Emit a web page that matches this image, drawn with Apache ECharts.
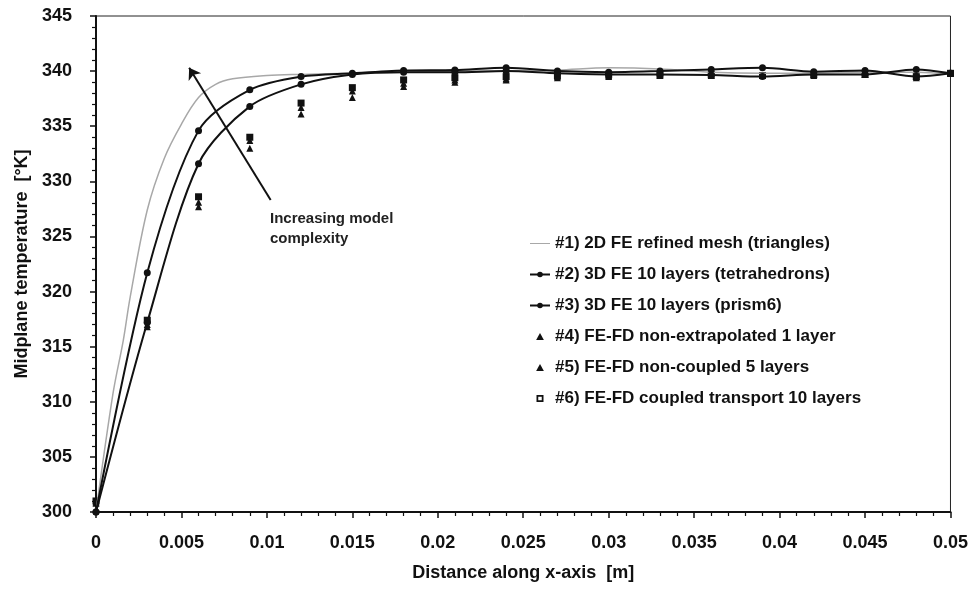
<!DOCTYPE html>
<html>
<head>
<meta charset="utf-8">
<script src="https://cdn.jsdelivr.net/npm/echarts@6/dist/echarts.min.js"></script>
<style>
  html, body { margin: 0; padding: 0; background: #fff; }
  #chart { width: 971px; height: 591px; }
</style>
</head>
<body>
<div id="chart"></div>
<script>
// tick labels
const xTicks = [0, 0.005, 0.01, 0.015, 0.02, 0.025, 0.03, 0.035, 0.04, 0.045, 0.05]
const yTicks = [300, 305, 310, 315, 320, 325, 330, 335, 340, 345]

// #1 2D FE refined mesh (dense curve)
const x2d = [0, 0.001, 0.0016, 0.002, 0.003, 0.004, 0.005, 0.006, 0.007, 0.008, 0.01, 0.012, 0.015,
  0.018, 0.021, 0.024, 0.027, 0.03, 0.033, 0.036, 0.039, 0.042, 0.045, 0.048, 0.05]
const t2d = [300, 310.8, 315.6, 319.5, 327.4, 332.1, 335.2, 337.6, 338.8, 339.3, 339.6, 339.7, 339.8,
  339.9, 340.0, 340.0, 340.1, 340.3, 340.2, 339.9, 339.8, 339.8, 339.9, 339.9, 339.7]

// nodes shared by the 3D / FE-FD results
const xNodes = [0, 0.003, 0.006, 0.009, 0.012, 0.015, 0.018, 0.021, 0.024, 0.027, 0.03, 0.033,
  0.036, 0.039, 0.042, 0.045, 0.048, 0.05]
const tTetra = [300, 321.7, 334.6, 338.3, 339.5, 339.8, 340.05, 340.1, 340.3, 340.0, 339.9, 340.0,
  340.15, 340.3, 339.95, 340.05, 339.5, 339.8]
const tPrism = [300, 317.2, 331.6, 336.8, 338.8, 339.7, 339.9, 339.9, 340.0, 339.8, 339.7, 339.7,
  339.65, 339.5, 339.7, 339.7, 340.15, 339.8]
const tNonExtrap = [300.8, 316.8, 327.7, 333.0, 336.1, 337.6, 338.6, 339.0, 339.2, 339.4, 339.5, 339.6,
  339.6, 339.6, 339.6, 339.7, 339.4, 339.8]
const tNonCoupled = [300.9, 317.0, 328.1, 333.7, 336.7, 338.2, 338.9, 339.2, 339.3, 339.5, 339.6, 339.6,
  339.6, 339.6, 339.7, 339.7, 339.5, 339.8]
const tCoupled = [301.0, 317.4, 328.6, 334.0, 337.1, 338.5, 339.2, 339.4, 339.5, 339.6, 339.7, 339.7,
  339.7, 339.6, 339.7, 339.7, 339.5, 339.8]

// arrow annotation (data coords)
const arrowFrom = [0.01022, 328.3]
const arrowTo = [0.00545, 340.3]

const zip = (xs, ys) => xs.map((x, i) => [x, ys[i]])

// legend icons (path icons keep their aspect)
const iconLine = 'path://M0 0 H20 V1 H0 Z'
const iconTri = 'path://M5 0 L10 9 L0 9 Z'
const iconBox = 'path://M0 0 H10 V10 H0 Z M2.5 2.5 V7.5 H7.5 V2.5 Z'

const chart = echarts.init(document.getElementById('chart'))
const font = 'Liberation Sans, Arial, sans-serif'

chart.setOption({
  animation: false,
  backgroundColor: '#fff',
  textStyle: { fontFamily: font },
  grid: {
    left: 96,
    right: 19,
    top: 16,
    bottom: 79,
    show: true,
    borderColor: '#222',
    borderWidth: 1,
  },
  legend: {
    orient: 'vertical',
    left: 524,
    top: 230,
    itemWidth: 20,
    itemHeight: 7,
    itemGap: 14,
    symbolKeepAspect: true,
    selectedMode: false,
    textStyle: { fontFamily: font, fontSize: 17, fontWeight: 'bold', color: '#111' },
    data: [
      { name: '#1) 2D FE refined mesh (triangles)', icon: iconLine },
      '#2) 3D FE 10 layers (tetrahedrons)',
      '#3) 3D FE 10 layers (prism6)',
      { name: '#4) FE-FD non-extrapolated 1 layer', icon: iconTri },
      { name: '#5) FE-FD non-coupled 5 layers', icon: iconTri },
      { name: '#6) FE-FD coupled transport 10 layers', icon: iconBox },
    ],
  },
  xAxis: {
    type: 'value',
    min: xTicks[0],
    max: xTicks[xTicks.length - 1],
    interval: xTicks[1] - xTicks[0],
    name: 'Distance along x-axis  [m]',
    nameLocation: 'middle',
    nameGap: 52,
    nameTextStyle: { fontFamily: font, fontSize: 18, fontWeight: 'bold', color: '#111' },
    axisLine: { lineStyle: { color: '#111', width: 2 } },
    axisTick: { show: true, inside: false, length: 6, lineStyle: { color: '#111', width: 1.5 } },
    minorTick: { show: true, splitNumber: 5, length: 4, lineStyle: { color: '#111', width: 1.2 } },
    splitLine: { show: false },
    axisLabel: {
      margin: 22,
      fontFamily: font,
      fontSize: 18,
      fontWeight: 'bold',
      color: '#111',
      formatter: (v) => String(+v.toFixed(3)),
    },
  },
  yAxis: {
    type: 'value',
    min: yTicks[0],
    max: yTicks[yTicks.length - 1],
    interval: yTicks[1] - yTicks[0],
    name: 'Midplane temperature  [°K]',
    nameLocation: 'middle',
    nameGap: 65,
    nameTextStyle: { fontFamily: font, fontSize: 18, fontWeight: 'bold', color: '#111' },
    axisLine: { lineStyle: { color: '#111', width: 2 } },
    axisTick: { show: true, inside: false, length: 6, lineStyle: { color: '#111', width: 1.5 } },
    minorTick: { show: true, splitNumber: 5, length: 4, lineStyle: { color: '#111', width: 1.2 } },
    splitLine: { show: false },
    axisLabel: { margin: 24, fontFamily: font, fontSize: 18, fontWeight: 'bold', color: '#111' },
  },
  graphic: [
    {
      type: 'text',
      left: 270,
      top: 209,
      style: {
        text: 'Increasing model\ncomplexity',
        font: 'bold 15px ' + font,
        fill: '#222',
        lineHeight: 20,
      },
    },
  ],
  series: [
    {
      name: '#4) FE-FD non-extrapolated 1 layer',
      type: 'scatter',
      symbol: 'triangle',
      symbolSize: 7,
      itemStyle: { color: '#111', opacity: 1 },
      data: zip(xNodes, tNonExtrap),
    },
    {
      name: '#5) FE-FD non-coupled 5 layers',
      type: 'scatter',
      symbol: 'triangle',
      symbolSize: 7,
      itemStyle: { color: '#111', opacity: 1 },
      data: zip(xNodes, tNonCoupled),
    },
    {
      name: '#6) FE-FD coupled transport 10 layers',
      type: 'scatter',
      symbol: 'rect',
      symbolSize: 7,
      itemStyle: { color: '#111', opacity: 1 },
      data: zip(xNodes, tCoupled),
    },
    {
      name: '#1) 2D FE refined mesh (triangles)',
      type: 'line',
      smooth: 0.35,
      symbol: 'none',
      lineStyle: { color: '#a8a8a8', width: 1.5 },
      itemStyle: { color: '#a8a8a8' },
      data: zip(x2d, t2d),
    },
    {
      name: '#2) 3D FE 10 layers (tetrahedrons)',
      type: 'line',
      smooth: 0.3,
      symbol: 'circle',
      symbolSize: 7,
      lineStyle: { color: '#111', width: 2 },
      itemStyle: { color: '#111' },
      data: zip(xNodes, tTetra),
    },
    {
      name: '#3) 3D FE 10 layers (prism6)',
      type: 'line',
      smooth: 0.3,
      symbol: 'circle',
      symbolSize: 7,
      lineStyle: { color: '#111', width: 2 },
      itemStyle: { color: '#111' },
      data: zip(xNodes, tPrism),
      markLine: {
        silent: true,
        symbol: ['none', 'arrow'],
        symbolSize: 11,
        label: { show: false },
        lineStyle: { color: '#111', width: 2, type: 'solid' },
        data: [[{ coord: arrowFrom }, { coord: arrowTo }]],
      },
    },
  ],
})
</script>
</body>
</html>
